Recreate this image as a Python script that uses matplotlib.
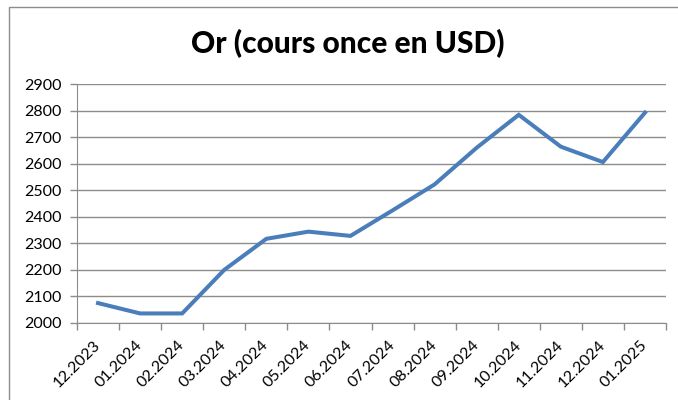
import matplotlib
matplotlib.use("Agg")
import matplotlib.pyplot as plt
from matplotlib.patches import Rectangle

months = ["12.2023", "01.2024", "02.2024", "03.2024", "04.2024", "05.2024", "06.2024",
          "07.2024", "08.2024", "09.2024", "10.2024", "11.2024", "12.2024", "01.2025"]
prices = [2075, 2036, 2036, 2200, 2317, 2344, 2328, 2424, 2522, 2660, 2784, 2664, 2606, 2792]
yticks = [2000, 2100, 2200, 2300, 2400, 2500, 2600, 2700, 2800, 2900]
title = "Or (cours once en USD)"

plt.rcParams['font.family'] = ['Lato', 'DejaVu Sans']

fig = plt.figure(figsize=(6.78, 4.00), dpi=100)
fig.patch.set_facecolor("white")

# chart frame (cut at right/bottom like the reference)
fig.add_artist(Rectangle((9/678, -0.1), 1.2, (400-7)/400 + 0.1, transform=fig.transFigure,
                         fill=False, edgecolor="#8c8c8c", linewidth=1.0))

ax = fig.add_axes([77/678, (400-323)/400, (666-77)/678, (323-84)/400])
x = list(range(len(months)))
ax.plot(x, prices, color="#4A7EBB", linewidth=2.9, solid_joinstyle="miter", zorder=3)

ax.set_xlim(-0.5, len(months) - 0.5)
ax.set_ylim(2000, 2900)
ax.set_yticks(yticks)
ax.set_yticklabels([str(v) for v in yticks], fontsize=11.5)
ax.yaxis.grid(True, color="#8c8c8c", linewidth=1.0)
ax.set_axisbelow(True)

# category boundary ticks
ax.set_xticks([i - 0.5 for i in range(len(months) + 1)])
ax.set_xticklabels([])
ax.set_xticks(x, minor=True)
ax.set_xticklabels(months, minor=True, rotation=45, ha="right", va="center",
                   rotation_mode="anchor", fontsize=11.5)
ax.tick_params(axis="x", which="minor", length=0, pad=14)
ax.tick_params(axis="x", which="major", length=5, color="#8c8c8c", width=1)
ax.tick_params(axis="y", length=5, color="#8c8c8c", width=1, pad=6)

for s in ["top", "right"]:
    ax.spines[s].set_visible(False)
ax.spines["left"].set_color("#8c8c8c")
ax.spines["bottom"].set_color("#8c8c8c")

fig.text(348/678, 1 - 44/400, title, ha="center", va="center",
         fontsize=21.5, fontweight="black")

fig.savefig("out.png", dpi=100)
